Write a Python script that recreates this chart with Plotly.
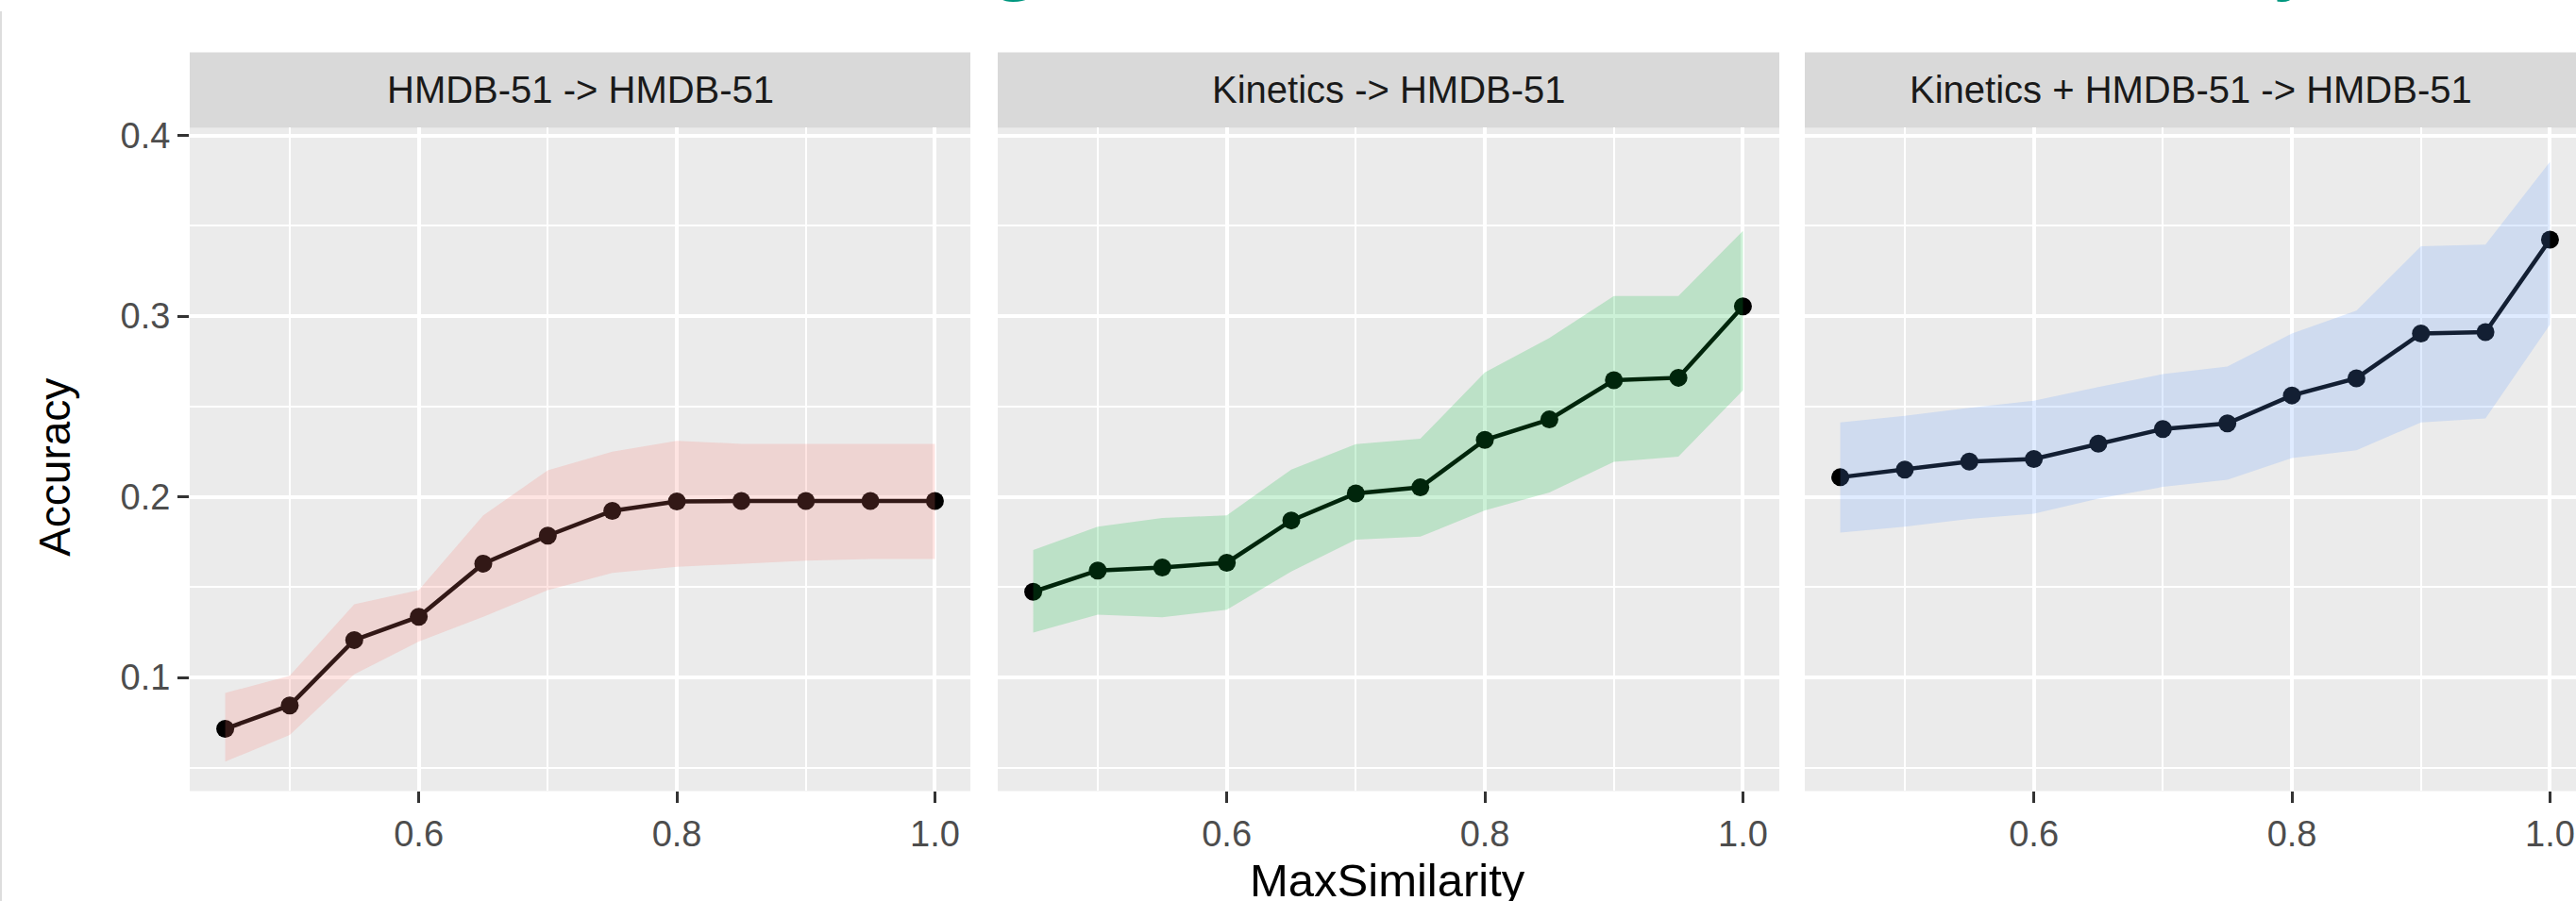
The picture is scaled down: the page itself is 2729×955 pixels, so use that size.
import plotly.graph_objects as go

# MaxSimilarity thresholds shared by every panel
max_similarity = [0.45, 0.50, 0.55, 0.60, 0.65, 0.70, 0.75, 0.80, 0.85, 0.90, 0.95, 1.00]

panel_titles = ["HMDB-51 -> HMDB-51", "Kinetics -> HMDB-51", "Kinetics + HMDB-51 -> HMDB-51"]

# HMDB-51 -> HMDB-51
hmdb_acc = [0.0715, 0.0845, 0.1207, 0.1336, 0.1630, 0.1785, 0.1922, 0.1974, 0.1977, 0.1977, 0.1977, 0.1977]
hmdb_upper = [0.0914, 0.1009, 0.1405, 0.1483, 0.1897, 0.2147, 0.2250, 0.2310, 0.2293, 0.2293, 0.2293, 0.2293]
hmdb_lower = [0.0534, 0.0681, 0.1017, 0.1198, 0.1336, 0.1483, 0.1578, 0.1612, 0.1630, 0.1647, 0.1655, 0.1655]

# Kinetics -> HMDB-51
kin_acc = [0.1474, 0.1592, 0.1609, 0.1635, 0.1869, 0.2019, 0.2052, 0.2315, 0.2428, 0.2645, 0.2659, 0.3054]
kin_upper = [0.1705, 0.1835, 0.1883, 0.1897, 0.2151, 0.2292, 0.2321, 0.2688, 0.2879, 0.3111, 0.3111, 0.3472]
kin_lower = [0.1248, 0.1347, 0.1333, 0.1375, 0.1587, 0.1762, 0.1779, 0.1925, 0.2024, 0.2193, 0.2222, 0.2589]

# Kinetics + HMDB-51 -> HMDB-51
both_acc = [0.2108, 0.2150, 0.2195, 0.2209, 0.2294, 0.2375, 0.2406, 0.2561, 0.2656, 0.2904, 0.2912, 0.3424]
both_upper = [0.2412, 0.2448, 0.2493, 0.2532, 0.2608, 0.2679, 0.2721, 0.2904, 0.3030, 0.3387, 0.3396, 0.3854]
both_lower = [0.1802, 0.1835, 0.1877, 0.1906, 0.1990, 0.2055, 0.2094, 0.2215, 0.2257, 0.2412, 0.2434, 0.2954]

x_ticks = [0.6, 0.8, 1.0]
y_ticks = [0.1, 0.2, 0.3, 0.4]

ribbon_colors = ["rgba(248,118,109,0.2)", "rgba(0,186,56,0.2)", "rgba(97,156,255,0.2)"]

series = [
    (hmdb_acc, hmdb_upper, hmdb_lower),
    (kin_acc, kin_upper, kin_lower),
    (both_acc, both_upper, both_lower),
]

W, H = 2729, 955
FONT = "Liberation Sans, Arial, Helvetica, sans-serif"

# panel geometry in pixels
panel_px = [(201, 1028), (1057, 1885), (1912, 2729)]
panel_top_px, panel_bottom_px = 125, 837
strip_top_px = 44
x_lo = 0.4225
px_per_unit = 1367.0
y_range = [0.03708, 0.40428]

fig = go.Figure()

for i, (acc, up, lo) in enumerate(series):
    ax = "" if i == 0 else str(i + 1)
    # line with points
    fig.add_trace(go.Scatter(
        x=max_similarity, y=acc, mode="lines+markers",
        line=dict(color="black", width=4.5),
        marker=dict(color="black", size=19),
        xaxis="x" + ax, yaxis="y" + ax, hoverinfo="skip",
    ))
    # confidence ribbon drawn on top of the line
    fig.add_trace(go.Scatter(
        x=max_similarity + max_similarity[::-1],
        y=up + lo[::-1],
        fill="toself", fillcolor=ribbon_colors[i],
        line=dict(width=0), mode="lines",
        xaxis="x" + ax, yaxis="y" + ax, hoverinfo="skip",
    ))

layout = dict(
    width=W, height=H,
    margin=dict(l=0, r=0, t=0, b=0),
    paper_bgcolor="white", plot_bgcolor="#EBEBEB",
    showlegend=False, hovermode=False,
    font=dict(family=FONT),
)

shapes = []
annotations = []
y_dom = [1 - panel_bottom_px / H, 1 - panel_top_px / H]

for i, (l, r) in enumerate(panel_px):
    ax = "" if i == 0 else str(i + 1)
    x_hi = x_lo + (r - l) / px_per_unit
    layout["xaxis" + ax] = dict(
        domain=[l / W, r / W], range=[x_lo, x_hi], anchor="y" + ax,
        tickmode="array", tickvals=x_ticks, ticktext=[f"{v:.1f}" for v in x_ticks],
        ticks="outside", ticklen=12, tickwidth=3, tickcolor="#333333",
        tickfont=dict(size=38, color="#4D4D4D", family=FONT),
        showgrid=True, gridcolor="white", gridwidth=4,
        minor=dict(tickmode="array", tickvals=[0.5, 0.7, 0.9], showgrid=True,
                   gridcolor="white", gridwidth=2),
        zeroline=False, showline=False, fixedrange=True,
    )
    layout["yaxis" + ax] = dict(
        domain=y_dom, range=y_range, anchor="x" + ax,
        tickmode="array", tickvals=y_ticks, ticktext=[f"{v:.1f}" for v in y_ticks],
        ticks="outside" if i == 0 else "", ticklen=12, tickwidth=3, tickcolor="#333333",
        showticklabels=(i == 0),
        tickfont=dict(size=38, color="#4D4D4D", family=FONT),
        showgrid=True, gridcolor="white", gridwidth=4,
        minor=dict(tickmode="array", tickvals=[0.05, 0.15, 0.25, 0.35], showgrid=True,
                   gridcolor="white", gridwidth=2),
        zeroline=False, showline=False, fixedrange=True,
    )
    # facet strip
    shapes.append(dict(
        type="rect", xref="paper", yref="paper",
        x0=l / W, x1=r / W, y0=1 - panel_top_px / H, y1=1 - strip_top_px / H,
        fillcolor="#D9D9D9", line=dict(width=0), layer="below",
    ))
    annotations.append(dict(
        text=panel_titles[i], xref="paper", yref="paper",
        x=(l + min(r, l + 828)) / 2 / W, y=1 - (strip_top_px + panel_top_px) / 2 / H,
        xanchor="center", yanchor="middle", showarrow=False,
        font=dict(size=40, color="#1A1A1A", family=FONT),
    ))

# axis titles
annotations.append(dict(
    text="Accuracy", xref="paper", yref="paper", x=58 / W, y=1 - 490 / H,
    xanchor="center", yanchor="middle", textangle=-90, showarrow=False,
    font=dict(size=46, color="black", family=FONT),
))
annotations.append(dict(
    text="MaxSimilarity", xref="paper", yref="paper", x=1470 / W, y=1 - 903 / H,
    xanchor="center", yanchor="top", showarrow=False,
    font=dict(size=49, color="black", family=FONT),
))

# heading above the figure, only its lowest strokes fall inside the page
for ch, cx in (("g", 1076), ("y", 2430)):
    annotations.append(dict(
        text=ch, xref="paper", yref="paper", x=cx / W, y=1 + 4 / H,
        xanchor="center", yanchor="bottom", showarrow=False,
        font=dict(size=72, color="#00977F", family="Open Sans", weight="bold"),
    ))

# thin frame line on the left edge
shapes.append(dict(
    type="line", xref="paper", yref="paper", x0=1 / W, x1=1 / W, y0=0, y1=1,
    line=dict(color="#DDDDDD", width=2),
))

layout["shapes"] = shapes
layout["annotations"] = annotations
fig.update_layout(**layout)

fig.write_html("out.html")
